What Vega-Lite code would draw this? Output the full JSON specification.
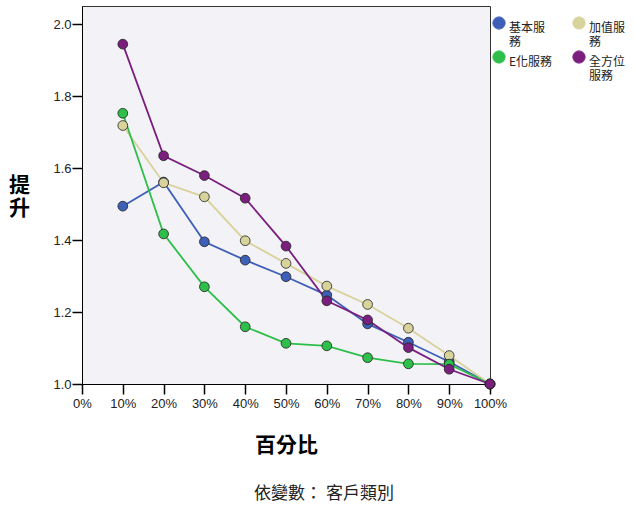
{
  "$schema": "https://vega.github.io/schema/vega-lite/v6.json",
  "width": 408,
  "height": 378,
  "autosize": {"type": "none"},
  "padding": {"left": 82, "top": 6, "right": 146, "bottom": 121},
  "background": "#ffffff",
  "config": {
    "view": {"fill": "#f3f2f6", "stroke": "#333333", "strokeWidth": 1},
    "font": "Liberation Sans, Noto Sans CJK TC"
  },
  "title": {
    "text": "依變數：  客戶類別",
    "orient": "bottom",
    "anchor": "middle",
    "dx": 38,
    "offset": 31,
    "fontSize": 17,
    "fontWeight": "normal",
    "color": "#222222",
    "font": "Noto Sans CJK TC"
  },
  "data": {
    "values": [
      {"pct": 0.1, "group": "基本服務", "lift": 1.494},
      {"pct": 0.2, "group": "基本服務", "lift": 1.561},
      {"pct": 0.3, "group": "基本服務", "lift": 1.395},
      {"pct": 0.4, "group": "基本服務", "lift": 1.344},
      {"pct": 0.5, "group": "基本服務", "lift": 1.298},
      {"pct": 0.6, "group": "基本服務", "lift": 1.247},
      {"pct": 0.7, "group": "基本服務", "lift": 1.167},
      {"pct": 0.8, "group": "基本服務", "lift": 1.116},
      {"pct": 0.9, "group": "基本服務", "lift": 1.062},
      {"pct": 1.0, "group": "基本服務", "lift": 1.0},
      {"pct": 0.1, "group": "加值服務", "lift": 1.718},
      {"pct": 0.2, "group": "加值服務", "lift": 1.559},
      {"pct": 0.3, "group": "加值服務", "lift": 1.52},
      {"pct": 0.4, "group": "加值服務", "lift": 1.398},
      {"pct": 0.5, "group": "加值服務", "lift": 1.335},
      {"pct": 0.6, "group": "加值服務", "lift": 1.272},
      {"pct": 0.7, "group": "加值服務", "lift": 1.221},
      {"pct": 0.8, "group": "加值服務", "lift": 1.155},
      {"pct": 0.9, "group": "加值服務", "lift": 1.079},
      {"pct": 1.0, "group": "加值服務", "lift": 1.0},
      {"pct": 0.1, "group": "E化服務", "lift": 1.752},
      {"pct": 0.2, "group": "E化服務", "lift": 1.417},
      {"pct": 0.3, "group": "E化服務", "lift": 1.27},
      {"pct": 0.4, "group": "E化服務", "lift": 1.159},
      {"pct": 0.5, "group": "E化服務", "lift": 1.113},
      {"pct": 0.6, "group": "E化服務", "lift": 1.106},
      {"pct": 0.7, "group": "E化服務", "lift": 1.073},
      {"pct": 0.8, "group": "E化服務", "lift": 1.056},
      {"pct": 0.9, "group": "E化服務", "lift": 1.055},
      {"pct": 1.0, "group": "E化服務", "lift": 1.0},
      {"pct": 0.1, "group": "全方位服務", "lift": 1.944},
      {"pct": 0.2, "group": "全方位服務", "lift": 1.634},
      {"pct": 0.3, "group": "全方位服務", "lift": 1.579},
      {"pct": 0.4, "group": "全方位服務", "lift": 1.516},
      {"pct": 0.5, "group": "全方位服務", "lift": 1.383},
      {"pct": 0.6, "group": "全方位服務", "lift": 1.231},
      {"pct": 0.7, "group": "全方位服務", "lift": 1.178},
      {"pct": 0.8, "group": "全方位服務", "lift": 1.101},
      {"pct": 0.9, "group": "全方位服務", "lift": 1.041},
      {"pct": 1.0, "group": "全方位服務", "lift": 1.0}
    ]
  },
  "encoding": {
    "x": {
      "field": "pct",
      "type": "quantitative",
      "scale": {"domain": [0, 1], "nice": false},
      "axis": {
        "values": [0, 0.1, 0.2, 0.3, 0.4, 0.5, 0.6, 0.7, 0.8, 0.9, 1.0],
        "format": ".0%",
        "grid": false,
        "domainColor": "#000000",
        "tickColor": "#000000",
        "tickSize": 10,
        "tickWidth": 1.5,
        "labelFontSize": 13,
        "labelColor": "#222222",
        "labelPadding": 3,
        "labelFlush": false,
        "title": "百分比",
        "titleFont": "Noto Sans CJK TC",
        "titleFontSize": 21,
        "titleFontWeight": "bold",
        "titleColor": "#000000",
        "titlePadding": 24
      }
    },
    "y": {
      "field": "lift",
      "type": "quantitative",
      "scale": {"domain": [1.0, 2.05], "nice": false, "zero": false},
      "axis": {
        "values": [1.0, 1.2, 1.4, 1.6, 1.8, 2.0],
        "format": ".1f",
        "grid": false,
        "domainColor": "#000000",
        "tickColor": "#000000",
        "tickSize": 10,
        "tickWidth": 1.5,
        "labelFontSize": 13,
        "labelColor": "#222222",
        "labelPadding": 1,
        "labelFlush": false,
        "title": ["提", "升"],
        "titleAngle": 0,
        "titleFont": "Noto Sans CJK TC",
        "titleFontSize": 21,
        "titleLineHeight": 23,
        "titleFontWeight": "bold",
        "titleColor": "#000000",
        "titleBaseline": "bottom",
        "titleAlign": "center",
        "titlePadding": 11
      }
    },
    "color": {
      "field": "group",
      "type": "nominal",
      "sort": ["基本服務", "加值服務", "E化服務", "全方位服務"],
      "scale": {
        "domain": ["基本服務", "加值服務", "E化服務", "全方位服務"],
        "range": ["#3e5fb8", "#d8d29b", "#2dbf4a", "#7a1f7e"]
      },
      "legend": {
        "title": null,
        "orient": "none",
        "legendX": 410,
        "legendY": 10,
        "direction": "horizontal",
        "columns": 2,
        "columnPadding": 17,
        "rowPadding": 0,
        "symbolType": "circle",
        "symbolSize": 150,
        "symbolStrokeColor": "#222222",
        "symbolStrokeWidth": 1,
        "symbolOpacity": 1,
        "labelFont": "Noto Sans CJK TC",
        "labelFontSize": 12,
        "labelColor": "#222222",
        "labelOffset": 3,
        "labelBaseline": "top",
        "labelExpr": "datum.label == '基本服務' ? ['基本服','務'] : datum.label == '加值服務' ? ['加值服','務'] : datum.label == '全方位服務' ? ['全方位','服務'] : datum.label"
      }
    }
  },
  "layer": [
    {
      "mark": {"type": "line", "strokeWidth": 1.8}
    },
    {
      "mark": {"type": "point", "filled": true, "shape": "circle", "size": 95, "opacity": 1, "stroke": "#222222", "strokeWidth": 1, "strokeOpacity": 0.8}
    }
  ]
}
